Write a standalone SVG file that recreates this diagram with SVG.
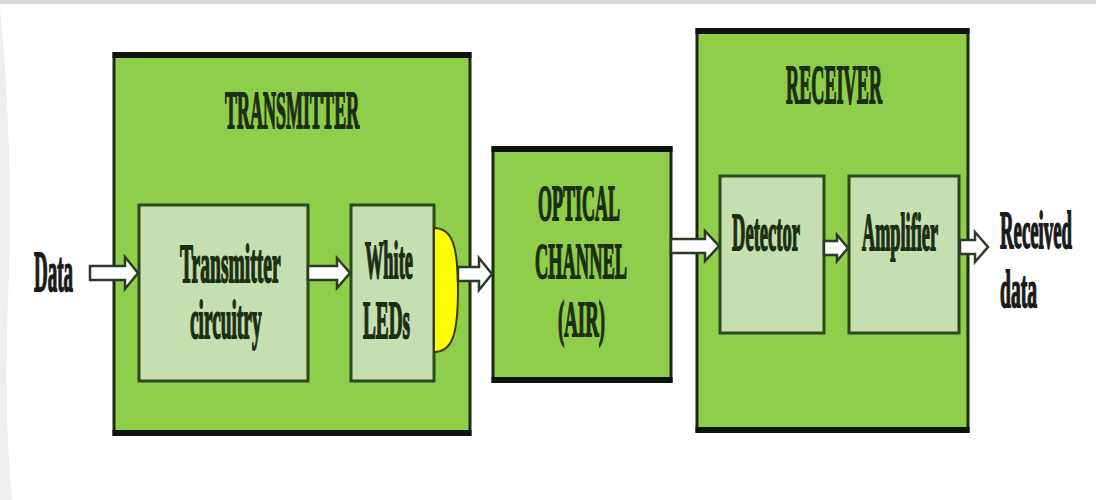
<svg xmlns="http://www.w3.org/2000/svg" width="1096" height="500" viewBox="0 0 1096 500">
  <style>
    .outer { fill: #8fce4a; stroke: #1b2a0e; stroke-width: 3; }
    .band { fill: #0d120a; }
    .inner { fill: #c6dfb1; stroke: #2b4a1a; stroke-width: 3; }
    .lbl { font-family: "Liberation Serif", "Times New Roman", serif; font-weight: bold; fill: #1c2e12; stroke: #1c2e12; stroke-width: 1.8; }
    .ext { font-family: "Liberation Serif", "Times New Roman", serif; font-weight: bold; fill: #1a1a1a; stroke: #1a1a1a; stroke-width: 1.8; }
    .arrow { fill: #ffffff; stroke: #2e3a28; stroke-width: 2.5; stroke-linejoin: miter; }
    .led { fill: #ffff00; stroke: #3d3a00; stroke-width: 2; }
  </style>
  <rect x="0" y="0" width="1096" height="500" fill="#ffffff"/>
  <rect x="0" y="0" width="1096" height="4" fill="#d6d6d6"/>
  <path d="M0,8 Q14,150 8,300 Q4,420 12,500 L0,500 Z" fill="#eeeeee"/>

  <g id="transmitter">
    <rect class="outer" x="114" y="54" width="356" height="380"/>
    <rect class="band" x="112.5" y="52" width="359" height="6"/>
    <rect class="band" x="112.5" y="430" width="359" height="6"/>
    <text class="lbl" transform="translate(225,128) scale(0.34,1)" font-size="53">TRANSMITTER</text>
  </g>

  <g id="transmitter-circuitry">
    <rect class="inner" x="139" y="205" width="169" height="176"/>
    <text class="lbl" transform="translate(180,282) scale(0.362,1)" font-size="54">Transmitter</text>
    <text class="lbl" transform="translate(190,338) scale(0.358,1)" font-size="54">circuitry</text>
  </g>

  <g id="white-leds">
    <rect class="inner" x="351" y="205" width="83" height="176"/>
    <text class="lbl" transform="translate(365,278) scale(0.353,1)" font-size="52">White</text>
    <text class="lbl" transform="translate(363,338) scale(0.37,1)" font-size="52">LEDs</text>
    <path class="led" d="M434,228 C452,228 458,245 458,290 C458,335 452,352 434,352 Z"/>
  </g>

  <g id="optical-channel">
    <rect class="outer" x="493" y="148" width="178" height="233"/>
    <rect class="band" x="491.5" y="146" width="181" height="6"/>
    <rect class="band" x="491.5" y="377" width="181" height="6"/>
    <text class="lbl" transform="translate(538,220) scale(0.36,1)" font-size="50">OPTICAL</text>
    <text class="lbl" transform="translate(535,278) scale(0.368,1)" font-size="50">CHANNEL</text>
    <text class="lbl" transform="translate(558,336) scale(0.376,1)" font-size="50">(AIR)</text>
  </g>

  <g id="receiver">
    <rect class="outer" x="697" y="30" width="271" height="401"/>
    <rect class="band" x="695.5" y="28" width="274" height="6"/>
    <rect class="band" x="695.5" y="427" width="274" height="6"/>
    <text class="lbl" transform="translate(786,103) scale(0.337,1)" font-size="54">RECEIVER</text>
  </g>

  <g id="detector">
    <rect class="inner" x="720" y="176" width="104" height="157"/>
    <text class="lbl" transform="translate(732,250) scale(0.357,1)" font-size="52">Detector</text>
  </g>

  <g id="amplifier">
    <rect class="inner" x="849" y="176" width="110" height="157"/>
    <text class="lbl" transform="translate(862,250) scale(0.351,1)" font-size="52">Amplifier</text>
  </g>

  <g id="data-in">
    <text class="ext" transform="translate(34,291) scale(0.34,1)" font-size="56">Data</text>
  </g>

  <g id="data-out">
    <text class="ext" transform="translate(1000,248) scale(0.361,1)" font-size="52">Received</text>
    <text class="ext" transform="translate(1000,307) scale(0.377,1)" font-size="52">data</text>
  </g>

  <g id="connectors">
    <path class="arrow" d="M90,266 L125,266 L125,257 L138,273 L125,289 L125,280 L90,280 Z"/>
    <path class="arrow" d="M308,266 L337,266 L337,258 L350,273 L337,288 L337,280 L308,280 Z"/>
    <path class="arrow" d="M458,267 L479,267 L479,258 L492,274 L479,290 L479,281 L458,281 Z"/>
    <path class="arrow" d="M671,239 L705,239 L705,231 L719,246 L705,261 L705,253 L671,253 Z"/>
    <path class="arrow" d="M824,241 L837,241 L837,235 L848,248 L837,261 L837,255 L824,255 Z"/>
    <path class="arrow" d="M960,240 L975,240 L975,232 L988,247 L975,262 L975,254 L960,254 Z"/>
  </g>
</svg>
